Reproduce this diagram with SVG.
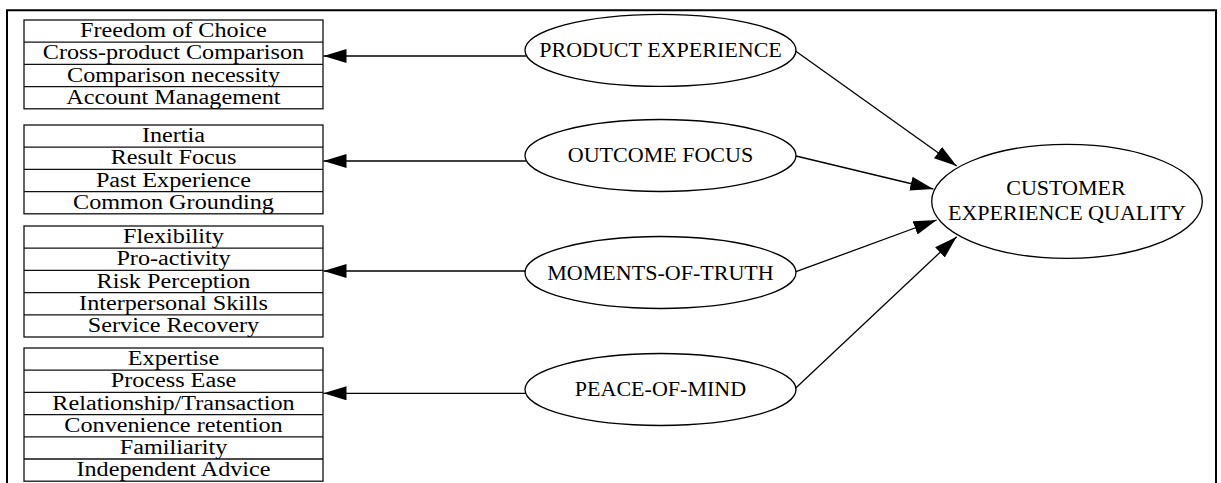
<svg xmlns="http://www.w3.org/2000/svg" width="1221" height="483" viewBox="0 0 1221 483">
  <style>
    .frame { fill: none; stroke: #000; stroke-width: 2; }
    .box { fill: #fff; stroke: #111; stroke-width: 1.3; }
    .sep { stroke: #111; stroke-width: 1.3; }
    .oval { fill: #fff; stroke: #000; stroke-width: 1.3; }
    .edge { fill: none; stroke: #000; stroke-width: 1.3; }
    text { font-family: "Liberation Serif", "Times New Roman", serif; fill: #000; text-anchor: middle;
           transform-box: fill-box; transform-origin: center; }
    .item { font-size: 20px; transform: scaleX(1.21); }
    .label { font-size: 21px; transform: scaleX(1.05); }
  </style>
  <defs>
    <marker id="head" markerUnits="userSpaceOnUse" markerWidth="24" markerHeight="15" refX="23" refY="7" orient="auto">
      <path d="M0,0 L23,7 L0,14 z" fill="#000"/>
    </marker>
  </defs>
  <rect width="1221" height="483" fill="#fff"/>
  <path class="frame" d="M7,483 V10.3 H1216 V483"/>

  <!-- attribute lists -->
  <g id="product-attrs">
    <rect class="box" x="24" y="20" width="299" height="88.8"/>
    <line class="sep" x1="24" y1="42.2" x2="323" y2="42.2"/>
    <line class="sep" x1="24" y1="64.4" x2="323" y2="64.4"/>
    <line class="sep" x1="24" y1="86.6" x2="323" y2="86.6"/>
    <text class="item" x="173.5" y="37.3">Freedom of Choice</text>
    <text class="item" x="173.5" y="59.5">Cross-product Comparison</text>
    <text class="item" x="173.5" y="81.7">Comparison necessity</text>
    <text class="item" x="173.5" y="103.9">Account Management</text>
  </g>
  <g id="outcome-attrs">
    <rect class="box" x="24" y="125" width="299" height="88.8"/>
    <line class="sep" x1="24" y1="147.2" x2="323" y2="147.2"/>
    <line class="sep" x1="24" y1="169.4" x2="323" y2="169.4"/>
    <line class="sep" x1="24" y1="191.6" x2="323" y2="191.6"/>
    <text class="item" x="173.5" y="142.3">Inertia</text>
    <text class="item" x="173.5" y="164.5">Result Focus</text>
    <text class="item" x="173.5" y="186.7">Past Experience</text>
    <text class="item" x="173.5" y="208.9">Common Grounding</text>
  </g>
  <g id="moments-attrs">
    <rect class="box" x="24" y="226" width="299" height="111"/>
    <line class="sep" x1="24" y1="248.2" x2="323" y2="248.2"/>
    <line class="sep" x1="24" y1="270.4" x2="323" y2="270.4"/>
    <line class="sep" x1="24" y1="292.6" x2="323" y2="292.6"/>
    <line class="sep" x1="24" y1="314.8" x2="323" y2="314.8"/>
    <text class="item" x="173.5" y="243.3">Flexibility</text>
    <text class="item" x="173.5" y="265.5">Pro-activity</text>
    <text class="item" x="173.5" y="287.7">Risk Perception</text>
    <text class="item" x="173.5" y="309.9">Interpersonal Skills</text>
    <text class="item" x="173.5" y="332.1">Service Recovery</text>
  </g>
  <g id="peace-attrs">
    <rect class="box" x="24" y="348" width="299" height="133.2"/>
    <line class="sep" x1="24" y1="370.2" x2="323" y2="370.2"/>
    <line class="sep" x1="24" y1="392.4" x2="323" y2="392.4"/>
    <line class="sep" x1="24" y1="414.6" x2="323" y2="414.6"/>
    <line class="sep" x1="24" y1="436.8" x2="323" y2="436.8"/>
    <line class="sep" x1="24" y1="459" x2="323" y2="459"/>
    <text class="item" x="173.5" y="365.3">Expertise</text>
    <text class="item" x="173.5" y="387.5">Process Ease</text>
    <text class="item" x="173.5" y="409.7">Relationship/Transaction</text>
    <text class="item" x="173.5" y="431.9">Convenience retention</text>
    <text class="item" x="173.5" y="454.1">Familiarity</text>
    <text class="item" x="173.5" y="476.3">Independent Advice</text>
  </g>

  <!-- dimensions -->
  <g id="product-experience">
    <ellipse class="oval" cx="660.5" cy="50.3" rx="135.5" ry="36"/>
    <text class="label" x="660.5" y="57.5">PRODUCT EXPERIENCE</text>
  </g>
  <g id="outcome-focus">
    <ellipse class="oval" cx="660.5" cy="155.5" rx="135.5" ry="36"/>
    <text class="label" x="660.5" y="162.5">OUTCOME FOCUS</text>
  </g>
  <g id="moments-of-truth">
    <ellipse class="oval" cx="660.5" cy="272.5" rx="135.5" ry="36"/>
    <text class="label" x="660.5" y="280">MOMENTS-OF-TRUTH</text>
  </g>
  <g id="peace-of-mind">
    <ellipse class="oval" cx="660.5" cy="389.5" rx="135.5" ry="36"/>
    <text class="label" x="660.5" y="396.5">PEACE-OF-MIND</text>
  </g>
  <g id="customer-experience-quality">
    <ellipse class="oval" cx="1067" cy="201.3" rx="135.3" ry="57"/>
    <text class="label" x="1066" y="195.5">CUSTOMER</text>
    <text class="label" x="1067" y="220.5">EXPERIENCE QUALITY</text>
  </g>

  <g id="connectors">
    <line class="edge" x1="526.5" y1="56" x2="323.5" y2="56" marker-end="url(#head)"/>
    <line class="edge" x1="526" y1="161" x2="323.5" y2="161" marker-end="url(#head)"/>
    <line class="edge" x1="525.5" y1="271" x2="323.5" y2="271" marker-end="url(#head)"/>
    <line class="edge" x1="526" y1="393.3" x2="323.5" y2="393.3" marker-end="url(#head)"/>
    <line class="edge" x1="795.5" y1="51" x2="956.7" y2="166" marker-end="url(#head)"/>
    <line class="edge" x1="796" y1="156" x2="933.3" y2="189" marker-end="url(#head)"/>
    <line class="edge" x1="796" y1="271.7" x2="936.7" y2="220" marker-end="url(#head)"/>
    <line class="edge" x1="795.5" y1="388.3" x2="956.7" y2="236.7" marker-end="url(#head)"/>
  </g>
</svg>
